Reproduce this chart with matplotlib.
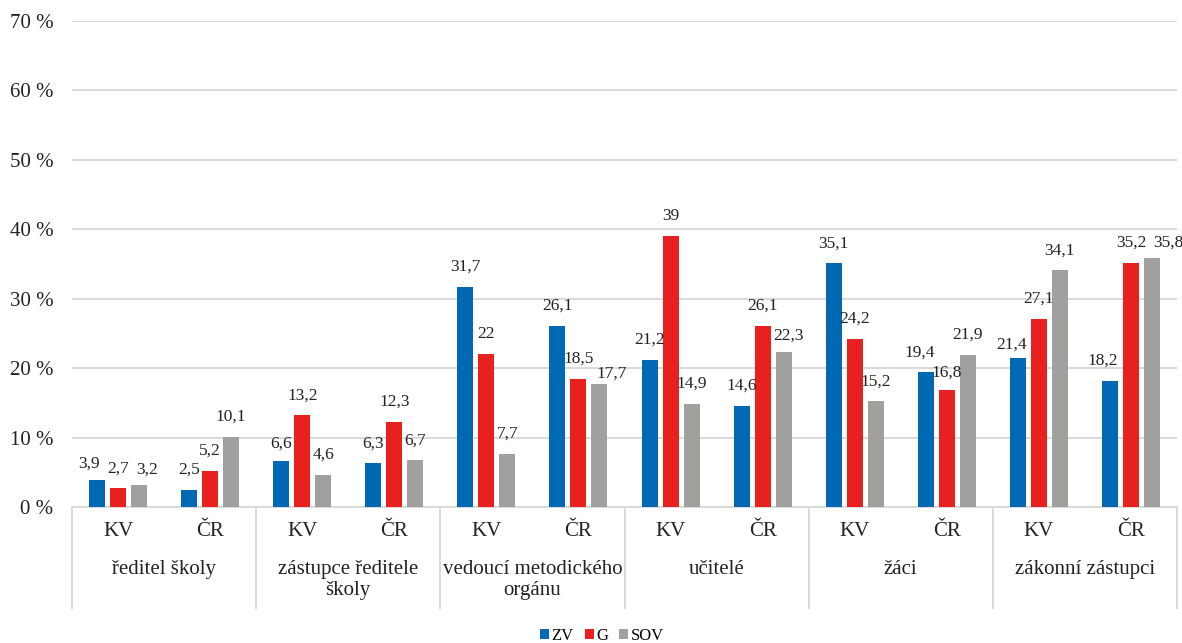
import numpy as np
import matplotlib.pyplot as plt

plt.rcParams['font.family'] = ['Liberation Serif', 'DejaVu Serif']

groups = ['ředitel školy', 'zástupce ředitele\nškoly', 'vedoucí metodického\norgánu',
          'učitelé', 'žáci', 'zákonní zástupci']
regions = ['KV', 'ČR']
series = ['ZV', 'G', 'SOV']
zv = [3.9, 2.5, 6.6, 6.3, 31.7, 26.1, 21.2, 14.6, 35.1, 19.4, 21.4, 18.2]
g = [2.7, 5.2, 13.2, 12.3, 22, 18.5, 39, 26.1, 24.2, 16.8, 27.1, 35.2]
sov = [3.2, 10.1, 4.6, 6.7, 7.7, 17.7, 14.9, 22.3, 15.2, 21.9, 34.1, 35.8]
colors = ['#0169B4', '#E8201E', '#A0A09F']

# hand-placed labels in the original (series, cluster) -> (dx, dy) in pixels
nudges = {(0, 0): (-8, 16), (2, 0): (8, 15), (2, 5): (12, 10), (2, 7): (5, 17),
          (0, 9): (-6, 20), (0, 10): (-6, 14), (0, 11): (-7, 20), (2, 11): (16, 16),
          (0, 2): (0, 18), (1, 9): (0, 18)}

W, H = 1182, 643
fig = plt.figure(figsize=(W / 100, H / 100), dpi=100)
ax = fig.add_axes([72 / W, (H - 507) / H, (1177 - 72) / W, (507 - 21) / H])

x = np.arange(len(zv))
bw = 0.174
step = 0.228
for i, (vals, c, name) in enumerate(zip([zv, g, sov], colors, series)):
    pos = x + (i - 1) * step
    ax.bar(pos, vals, width=bw, color=c, label=name, zorder=3)
    for j, (p, v) in enumerate(zip(pos, vals)):
        dx, dy = nudges.get((i, j), (0, 20))
        ax.annotate(f'{v:g}'.replace('.', ','), (p, v), xytext=(dx, dy),
                    textcoords='offset pixels', ha='center', va='center',
                    fontsize=12.5, color='#222222', zorder=4)

ax.set_xlim(-0.5, len(zv) - 0.5)
ax.set_ylim(0, 70)
ax.set_yticks(range(0, 71, 10))
ax.set_yticklabels([f'{t} %' for t in range(0, 71, 10)], fontsize=15, color='#222222')
ax.yaxis.grid(True, color='#D9D9D9', linewidth=1.4, zorder=0)
ax.tick_params(axis='y', length=0, pad=13.5)
ax.tick_params(axis='x', length=0)
ax.set_xticks([])
for s in ['top', 'right', 'left']:
    ax.spines[s].set_visible(False)
ax.spines['bottom'].set_color('#D9D9D9')
ax.spines['bottom'].set_linewidth(1.4)

# category axis below
trans = ax.get_xaxis_transform()
ph = 486.0
for k in range(len(groups) + 1):
    ax.plot([k * 2 - 0.5] * 2, [0, -101 / ph], transform=trans, color='#D9D9D9',
            lw=1.4, clip_on=False)
for i in x:
    ax.text(i, -25 / ph, regions[i % 2], transform=trans, ha='center', va='center',
            fontsize=15, color='#222222')
for k, gname in enumerate(groups):
    ax.text(k * 2 + 0.5, -53 / ph, gname, transform=trans, ha='center', va='top',
            fontsize=15, color='#222222', linespacing=1.15)

fig.legend(loc='center', bbox_to_anchor=(602 / W, 1 - 636 / H), ncol=3, frameon=False,
           fontsize=12, handlelength=0.55, handleheight=0.55, handletextpad=0.15,
           columnspacing=0.65, borderpad=0)

fig.savefig('out.png', dpi=100)
